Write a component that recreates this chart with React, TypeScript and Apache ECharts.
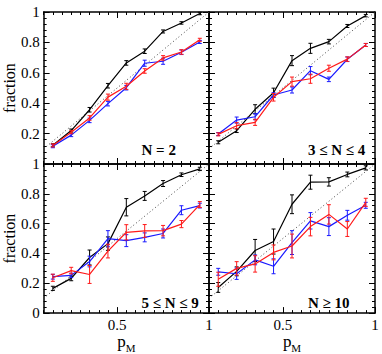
import React, { useEffect, useRef } from 'react';
import * as echarts from 'echarts';

// ---- data ----
const xBins = [0.15, 0.25, 0.35, 0.45, 0.55, 0.65, 0.75, 0.85, 0.95];
const panelLabels = ['N = 2', '3 ≤ N ≤ 4', '5 ≤ N ≤ 9', 'N ≥ 10'];

const blackP1 = [0.123, 0.22, 0.357, 0.515, 0.665, 0.742, 0.872, 0.928, 0.99];
const blackErrP1 = [0.01, 0.01, 0.015, 0.015, 0.015, 0.015, 0.01, 0.008, 0.008];
const blueP1 = [0.117, 0.19, 0.287, 0.397, 0.502, 0.663, 0.676, 0.735, 0.803];
const blueErrP1 = [0.01, 0.01, 0.015, 0.015, 0.015, 0.02, 0.02, 0.015, 0.01];
const redP1 = [0.122, 0.209, 0.303, 0.44, 0.511, 0.612, 0.698, 0.737, 0.817];
const redErrP1 = [0.01, 0.01, 0.015, 0.02, 0.02, 0.015, 0.015, 0.015, 0.01];

const blackP2 = [0.143, 0.219, 0.36, 0.469, 0.68, 0.761, 0.805, 0.908, 0.976];
const blackErrP2 = [0.01, 0.012, 0.03, 0.03, 0.033, 0.033, 0.015, 0.01, 0.008];
const blueP2 = [0.197, 0.289, 0.311, 0.454, 0.487, 0.614, 0.557, 0.689, 0.783];
const blueErrP2 = [0.01, 0.02, 0.02, 0.015, 0.02, 0.027, 0.015, 0.015, 0.01];
const redP2 = [0.195, 0.252, 0.274, 0.439, 0.542, 0.561, 0.63, 0.69, 0.783];
const redErrP2 = [0.01, 0.02, 0.02, 0.025, 0.03, 0.03, 0.02, 0.015, 0.01];

const blackP3 = [0.166, 0.233, 0.373, 0.466, 0.71, 0.786, 0.869, 0.928, 0.967];
const blackErrP3 = [0.014, 0.016, 0.05, 0.045, 0.058, 0.03, 0.02, 0.012, 0.011];
const blueP3 = [0.244, 0.253, 0.346, 0.499, 0.486, 0.508, 0.534, 0.69, 0.721];
const blueErrP3 = [0.016, 0.015, 0.036, 0.054, 0.04, 0.03, 0.03, 0.03, 0.016];
const redP3 = [0.237, 0.285, 0.259, 0.416, 0.542, 0.551, 0.553, 0.597, 0.728];
const redErrP3 = [0.024, 0.022, 0.06, 0.046, 0.051, 0.043, 0.035, 0.024, 0.02];

const blackP4 = [0.172, 0.28, 0.42, 0.48, 0.73, 0.878, 0.88, 0.93, 0.974];
const blackErrP4 = [0.033, 0.03, 0.074, 0.084, 0.063, 0.047, 0.028, 0.016, 0.014];
const blueP4 = [0.277, 0.264, 0.357, 0.314, 0.473, 0.619, 0.58, 0.656, 0.723];
const blueErrP4 = [0.023, 0.038, 0.033, 0.05, 0.08, 0.055, 0.06, 0.033, 0.02];
const redP4 = [0.227, 0.3, 0.33, 0.407, 0.45, 0.58, 0.662, 0.564, 0.743];
const redErrP4 = [0.047, 0.045, 0.055, 0.05, 0.08, 0.062, 0.065, 0.05, 0.027];

const diagonal = [
  [0.1, 0.1],
  [1, 1],
];
const xMin = 0.1;
const xMax = 1;
const xMinorStep = 0.05;
const xMajorTicks = [0.5, 1];
const yMin = 0;
const yMax = 1;
const yStep = 0.2;

const panels = [
  { black: [blackP1, blackErrP1], blue: [blueP1, blueErrP1], red: [redP1, redErrP1] },
  { black: [blackP2, blackErrP2], blue: [blueP2, blueErrP2], red: [redP2, redErrP2] },
  { black: [blackP3, blackErrP3], blue: [blueP3, blueErrP3], red: [redP3, redErrP3] },
  { black: [blackP4, blackErrP4], blue: [blueP4, blueErrP4], red: [redP4, redErrP4] },
];

const COLORS: Record<string, string> = { black: '#000000', blue: '#1a1aff', red: '#ff1a1a' };
const FONT = 'Liberation Serif';

const grids = [
  { left: 42.5, top: 12, width: 166.5, height: 152 },
  { left: 209, top: 12, width: 166, height: 152 },
  { left: 42.5, top: 164, width: 166.5, height: 153 },
  { left: 209, top: 164, width: 166, height: 153 },
];

function buildOption() {
  const xAxis: any[] = [];
  const yAxis: any[] = [];
  const series: any[] = [];
  const graphic: any[] = [];

  grids.forEach((g, i) => {
    const isBottom = i >= 2;
    const isLeft = i % 2 === 0;
    const lineStyle = { color: '#000', width: 1.5 };
    const tickStyle = { color: '#000', width: 1 };
    const labelFmt = (v: number) => {
      const m = xMajorTicks.find((t) => Math.abs(t - v) < 1e-6);
      return m === undefined ? '' : String(m);
    };
    (['bottom', 'top'] as const).forEach((pos) => {
      const showLabels = pos === 'bottom' && isBottom;
      xAxis.push({
        type: 'value',
        gridIndex: i,
        position: pos,
        min: xMin,
        max: xMax,
        interval: xMinorStep,
        axisLine: { show: true, onZero: false, lineStyle },
        axisTick: { show: true, inside: true, length: 3, lineStyle: tickStyle },
        axisLabel: {
          show: showLabels,
          formatter: labelFmt,
          margin: 4,
          color: '#000',
          fontFamily: FONT,
          fontSize: 15,
        },
        splitLine: { show: false },
        name: showLabels ? '{p|p}{m|M}' : '',
        nameLocation: 'middle',
        nameGap: 17,
        nameTextStyle: {
          color: '#000',
          fontFamily: FONT,
          rich: {
            p: { fontSize: 17, fontFamily: FONT, color: '#000', lineHeight: 20, verticalAlign: 'top' },
            m: { fontSize: 11, fontFamily: FONT, color: '#000', lineHeight: 20, verticalAlign: 'bottom' },
          },
        },
      });
      xAxis.push({
        type: 'value',
        gridIndex: i,
        position: pos,
        min: xMin,
        max: xMax,
        axisLine: { show: false, onZero: false },
        axisTick: { show: true, inside: true, length: 6, lineStyle: tickStyle, customValues: xMajorTicks },
        axisLabel: { show: false },
        splitLine: { show: false },
      });
    });
    (['left', 'right'] as const).forEach((pos) => {
      const showLabels = pos === 'left' && isLeft;
      yAxis.push({
        type: 'value',
        gridIndex: i,
        position: pos,
        min: yMin,
        max: yMax,
        interval: yStep,
        axisLine: { show: true, onZero: false, lineStyle },
        axisTick: { show: true, inside: true, length: 6, lineStyle: tickStyle },
        minorTick: { show: true, splitNumber: 5, length: 3, lineStyle: tickStyle },
        axisLabel: {
          show: showLabels,
          showMinLabel: isBottom,
          margin: 4,
          color: '#000',
          fontFamily: FONT,
          fontSize: 15,
          formatter: (v: number) => String(Math.round(v * 10) / 10),
        },
        splitLine: { show: false },
        minorSplitLine: { show: false },
        name: showLabels ? 'fraction' : '',
        nameLocation: 'middle',
        nameRotate: 90,
        nameGap: 23,
        nameTextStyle: { color: '#000', fontFamily: FONT, fontSize: 16 },
      });
    });

    const xIdx = i * 4;
    const yIdx = i * 2;

    series.push({
      type: 'line',
      xAxisIndex: xIdx,
      yAxisIndex: yIdx,
      data: diagonal,
      showSymbol: false,
      silent: true,
      lineStyle: { color: '#444', width: 1, type: [1, 2.5] },
      z: 1,
    });

    const p = panels[i] as any;
    ['black', 'blue', 'red'].forEach((key, k) => {
      const [vals, errs] = p[key];
      const color = COLORS[key];
      series.push({
        type: 'line',
        xAxisIndex: xIdx,
        yAxisIndex: yIdx,
        data: xBins.map((x, j) => [x, vals[j]]),
        showSymbol: false,
        lineStyle: { color, width: 1.2 },
        z: 2 + k,
      });
      series.push({
        type: 'custom',
        xAxisIndex: xIdx,
        yAxisIndex: yIdx,
        data: xBins.map((x, j) => [x, vals[j] - errs[j], vals[j] + errs[j]]),
        encode: { x: 0, y: [1, 2] },
        z: 2 + k,
        renderItem: (params: any, api: any) => {
          const x = api.value(0);
          const lo = api.coord([x, api.value(1)]);
          const hi = api.coord([x, api.value(2)]);
          const c = 2;
          const style = { stroke: color, lineWidth: 1 };
          return {
            type: 'group',
            children: [
              { type: 'line', shape: { x1: hi[0], y1: hi[1], x2: lo[0], y2: lo[1] }, style },
              { type: 'line', shape: { x1: hi[0] - c, y1: hi[1], x2: hi[0] + c, y2: hi[1] }, style },
              { type: 'line', shape: { x1: lo[0] - c, y1: lo[1], x2: lo[0] + c, y2: lo[1] }, style },
            ],
          };
        },
      });
    });

    graphic.push({
      type: 'text',
      x: g.left + 99,
      y: g.top + g.height - 7,
      style: {
        text: panelLabels[i],
        fill: '#000',
        font: `bold 15px "${FONT}"`,
        verticalAlign: 'bottom',
        align: 'left',
      },
      z: 10,
    });
  });

  return {
    animation: false,
    backgroundColor: '#fff',
    grid: grids.map((g) => ({ ...g, containLabel: false })),
    xAxis,
    yAxis,
    series,
    graphic,
  };
}

export default function App() {
  const ref = useRef<HTMLDivElement>(null);
  useEffect(() => {
    if (!ref.current) return;
    const chart = echarts.init(ref.current, undefined, { renderer: 'svg' });
    chart.setOption(buildOption() as any);
    return () => chart.dispose();
  }, []);
  return (
    <div
      ref={ref}
      style={{ position: 'fixed', left: 0, top: 0, width: 382, height: 354, background: '#fff' }}
    />
  );
}
